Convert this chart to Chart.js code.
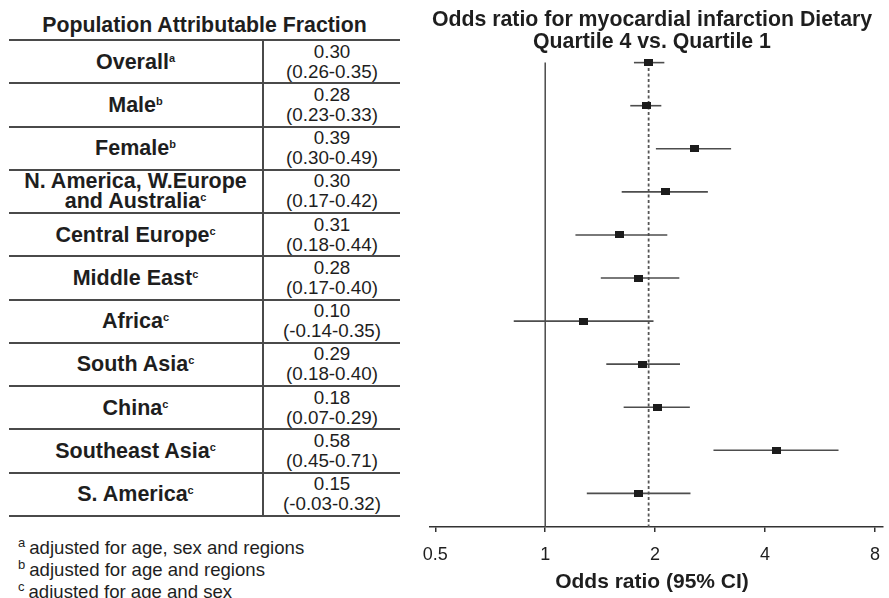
<!DOCTYPE html>
<html>
<head>
<meta charset="utf-8">
<script src="https://cdn.jsdelivr.net/npm/chart.js@4"></script>
<style>
  body { margin: 0; width: 889px; height: 598px; background: #fff; position: relative; overflow: hidden;
         font-family: "Liberation Sans", Arial, sans-serif; color: #1e1e1e; }
  #paf-title { position: absolute; left: 9px; width: 391px; top: 12px; text-align: center;
               font-weight: bold; font-size: 21.3px; line-height: 26px; }
  #paf { position: absolute; left: 9px; top: 39px; width: 391px; border-top: 2px solid #4a4a4a; }
  .row { display: flex; height: 43.27px; box-sizing: border-box; border-bottom: 2px solid #4a4a4a; }
  .lab { width: 255px; box-sizing: border-box; border-right: 2px solid #4a4a4a; display: flex;
         align-items: center; justify-content: center; text-align: center; font-weight: bold;
         font-size: 21.5px; line-height: 20px; white-space: pre-line; }
  .lab sup { font-size: 11px; line-height: 0; vertical-align: 7px; }
  .val { flex: 1; display: flex; flex-direction: column; align-items: center; justify-content: center;
         font-size: 18.8px; line-height: 20px; }
  #notes { position: absolute; left: 18px; top: 537px; font-size: 18.6px; line-height: 22px; }
  #notes sup { font-size: 13px; line-height: 0; vertical-align: 7px; margin-right: 4px; }
  #chart { position: absolute; left: 415px; top: 0; }
</style>
</head>
<body>
<div id="paf-title">Population Attributable Fraction</div>
<div id="paf"></div>
<div id="notes"></div>
<canvas id="chart" width="474" height="598"></canvas>

<script>
// --- data ---
const groups = ["Overall", "Male", "Female", "N. America, W.Europe\nand Australia", "Central Europe",
  "Middle East", "Africa", "South Asia", "China", "Southeast Asia", "S. America"];
const groupNotes = ["a", "b", "b", "c", "c", "c", "c", "c", "c", "c", "c"];
const pafEst = ["0.30", "0.28", "0.39", "0.30", "0.31", "0.28", "0.10", "0.29", "0.18", "0.58", "0.15"];
const pafCI = ["(0.26-0.35)", "(0.23-0.33)", "(0.30-0.49)", "(0.17-0.42)", "(0.18-0.44)", "(0.17-0.40)",
  "(-0.14-0.35)", "(0.18-0.40)", "(0.07-0.29)", "(0.45-0.71)", "(-0.03-0.32)"];

// odds ratios (quartile 4 vs quartile 1) and 95% CI
const orEst = [1.92, 1.89, 2.56, 2.13, 1.60, 1.80, 1.27, 1.85, 2.03, 4.30, 1.80];
const orLow = [1.75, 1.71, 2.01, 1.62, 1.21, 1.42, 0.82, 1.47, 1.64, 2.89, 1.30];
const orHigh = [2.12, 2.08, 3.23, 2.79, 2.16, 2.33, 1.98, 2.34, 2.49, 6.36, 2.50];

const xTicks = [0.5, 1, 2, 4, 8];
const footNotes = [
  ["a", "adjusted for age, sex and regions"],
  ["b", "adjusted for age and regions"],
  ["c", "adjusted for age and sex"],
];

// --- left table ---
const table = document.getElementById("paf");
groups.forEach((g, i) => {
  const row = document.createElement("div");
  row.className = "row";
  const lab = document.createElement("div");
  lab.className = "lab";
  const span = document.createElement("span");
  span.appendChild(document.createTextNode(g));
  const sup = document.createElement("sup");
  sup.textContent = groupNotes[i];
  span.appendChild(sup);
  lab.appendChild(span);
  const val = document.createElement("div");
  val.className = "val";
  val.innerHTML = "<div>" + pafEst[i] + "</div><div>" + pafCI[i] + "</div>";
  row.appendChild(lab);
  row.appendChild(val);
  table.appendChild(row);
});

const notes = document.getElementById("notes");
footNotes.forEach(([k, txt]) => {
  const d = document.createElement("div");
  d.innerHTML = "<sup>" + k + "</sup>" + txt;
  notes.appendChild(d);
});

// --- forest plot ---
Chart.defaults.font.family = '"Liberation Sans", Arial, sans-serif';
Chart.defaults.color = "#1e1e1e";

const Y_MIN = -0.16;
const Y_MAX = 10.78;

// rectangular marker
const marker = document.createElement("canvas");
marker.width = 9;
marker.height = 7;
const mctx = marker.getContext("2d");
mctx.fillStyle = "#1c1c1c";
mctx.fillRect(0, 0, 9, 7);

const ciSets = orEst.map((_, i) => ({
  type: "line",
  data: [{ x: orLow[i], y: i }, { x: orHigh[i], y: i }],
  borderColor: "#4d4d4d",
  borderWidth: 1.6,
  pointRadius: 0,
  order: 1,
  clip: false,
}));

new Chart(document.getElementById("chart"), {
  type: "scatter",
  data: {
    datasets: [
      {
        data: orEst.map((v, i) => ({ x: v, y: i })),
        pointStyle: marker,
        pointRadius: 5,
        order: 0,
        clip: false,
      },
      ...ciSets,
      {
        type: "line",
        data: [{ x: 1, y: 0 }, { x: 1, y: Y_MAX }],
        borderColor: "#4a4a4a",
        borderWidth: 1.5,
        pointRadius: 0,
        order: 2,
      },
      {
        type: "line",
        data: [{ x: orEst[0], y: 0 }, { x: orEst[0], y: Y_MAX }],
        borderColor: "#555",
        borderWidth: 1.8,
        borderDash: [3, 2.5],
        pointRadius: 0,
        order: 2,
      },
    ],
  },
  options: {
    responsive: false,
    animation: false,
    layout: { padding: 0 },
    plugins: {
      legend: { display: false },
      tooltip: { enabled: false },
      title: {
        display: true,
        text: ["Odds ratio for myocardial infarction Dietary", "Quartile 4 vs. Quartile 1"],
        font: { size: 21.3, weight: "bold", lineHeight: 1.05 },
        color: "#1e1e1e",
        padding: { top: 9, bottom: 2 },
      },
      subtitle: {
        display: true,
        position: "bottom",
        text: "Odds ratio (95% CI)",
        font: { size: 21, weight: "bold", lineHeight: 1.2 },
        color: "#1e1e1e",
        padding: { top: 2.4, bottom: 3.4 },
      },
    },
    scales: {
      x: {
        type: "logarithmic",
        min: 0.4835,
        max: 8.42,
        afterBuildTicks: (s) => { s.ticks = xTicks.map((v) => ({ value: v })); },
        afterFit: (s) => { s.paddingLeft = 0; s.paddingRight = 0; s.height = 40; },
        ticks: {
          font: { size: 18 },
          color: "#1e1e1e",
          padding: 12,
          maxRotation: 0,
          autoSkip: false,
          callback: (v) => String(v),
        },
        grid: { drawOnChartArea: false, drawTicks: true, tickLength: 5, color: "#333", lineWidth: 1.5 },
        border: { display: true, color: "#333", width: 1.5 },
      },
      // hidden spacer axis so the plot starts at x = 430 while titles stay centred on the canvas
      y: {
        type: "linear",
        reverse: true,
        min: Y_MIN,
        max: Y_MAX,
        afterFit: (s) => { s.width = 15; },
        ticks: { display: false },
        grid: { display: false },
        border: { display: false },
      },
    },
  },
});
</script>
</body>
</html>
